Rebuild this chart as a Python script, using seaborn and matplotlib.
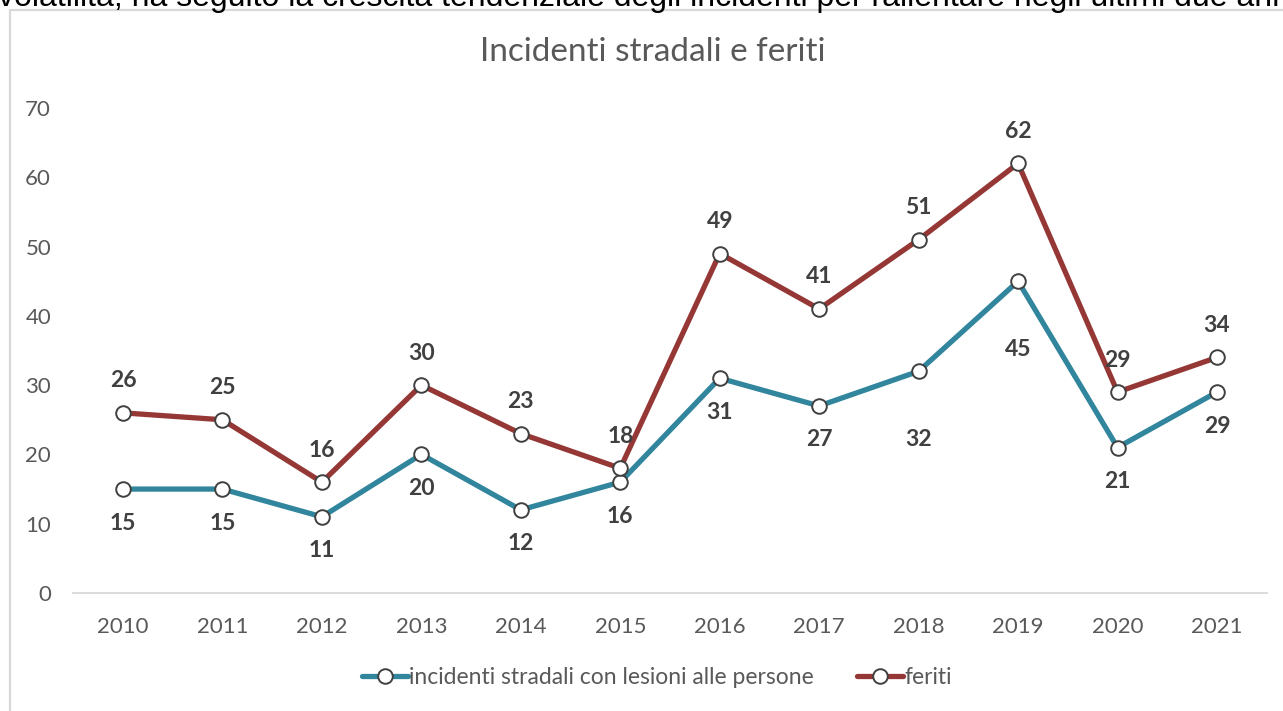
import matplotlib
matplotlib.use("Agg")
import matplotlib.pyplot as plt
from matplotlib.lines import Line2D
from matplotlib.patches import Rectangle
import pandas as pd
import seaborn as sns

# Data
anni = [2010, 2011, 2012, 2013, 2014, 2015, 2016, 2017, 2018, 2019, 2020, 2021]
incidenti = [15, 15, 11, 20, 12, 16, 31, 27, 32, 45, 21, 29]
feriti = [26, 25, 16, 30, 23, 18, 49, 41, 51, 62, 29, 34]
serie_incidenti = "incidenti stradali con lesioni alle persone"
serie_feriti = "feriti"
titolo = "Incidenti stradali e feriti"
testo_sopra = ("volatilità, ha seguito la crescita tendenziale degli incidenti "
               "per rallentare negli ultimi due anni")

# Vertical label offsets (pixels) for the data labels
off_incidenti = [34, 34, 34, 34, 34, 34, 34, 34, 68, 68, 34, 34]
off_feriti = [-32] * 12

col_inc = "#31859C"
col_fer = "#953735"
grey_txt = "#595959"
label_col = "#404040"

df = pd.DataFrame({
    "anno": anni * 2,
    "valore": incidenti + feriti,
    "serie": [serie_incidenti] * len(anni) + [serie_feriti] * len(anni),
})

sns.set_theme(style="white")
plt.rcParams["font.family"] = ["Lato", "DejaVu Sans"]

W, H = 1283, 711
fig = plt.figure(figsize=(W / 100, H / 100), dpi=100)
fig.patch.set_facecolor("white")

# light frame around the chart area
fig.patches.append(Rectangle((9.5 / W, -0.05), 1.1, 1.05 - 9.5 / H,
                             transform=fig.transFigure, fill=False,
                             edgecolor="#d9d9d9", linewidth=1.6))

# line of body text running above the chart
fig.text(-2 / W, 1 - 6 / H, testo_sopra, ha="left", va="baseline",
         fontsize=23, color="black", family=["Liberation Sans", "DejaVu Sans"])

left, right = 73.3 / W, 1266.7 / W
bottom, top = (H - 593) / H, (H - 108) / H
ax = fig.add_axes([left, bottom, right - left, top - bottom])

sns.lineplot(data=df, x="anno", y="valore", hue="serie",
             hue_order=[serie_incidenti, serie_feriti],
             palette=[col_inc, col_fer], linewidth=3.8,
             marker="o", markersize=10.5, markerfacecolor="white",
             markeredgecolor="#404040", markeredgewidth=1.4,
             legend=False, ax=ax)

ax.set_xlim(anni[0] - 0.5, anni[-1] + 0.5)
ax.set_ylim(0, 70)
ax.set_xticks(anni)
ax.set_xticklabels([str(a) for a in anni])
ax.set_yticks(range(0, 71, 10))
ax.tick_params(axis="both", length=0, labelsize=16, labelcolor=grey_txt)
ax.tick_params(axis="y", pad=16)
ax.tick_params(axis="x", pad=17)
ax.set_xlabel("")
ax.set_ylabel("")
for s in ["left", "right", "top"]:
    ax.spines[s].set_visible(False)
ax.spines["bottom"].set_color("#d9d9d9")
ax.spines["bottom"].set_linewidth(1.3)
ax.grid(False)

for x, v, o in zip(anni, feriti, off_feriti):
    ax.annotate(str(v), (x, v), xytext=(0, -o), textcoords="offset pixels",
                ha="center", va="center", fontsize=16.5, fontweight="bold",
                color=label_col)
for x, v, o in zip(anni, incidenti, off_incidenti):
    ax.annotate(str(v), (x, v), xytext=(0, -o), textcoords="offset pixels",
                ha="center", va="center", fontsize=16.5, fontweight="bold",
                color=label_col)

fig.text(653 / W, 1 - 52 / H, titolo, ha="center", va="center",
         fontsize=24, color=grey_txt)

handles = [
    Line2D([], [], color=c, linewidth=3.8, marker="o", markersize=10.5,
           markerfacecolor="white", markeredgecolor="#404040",
           markeredgewidth=1.4)
    for c in (col_inc, col_fer)
]
fig.legend(handles, [serie_incidenti, serie_feriti], loc="center",
           bbox_to_anchor=(657 / W, 1 - 678 / H), ncol=2, frameon=False,
           fontsize=16.5, labelcolor=grey_txt, handlelength=2.0,
           handletextpad=0.05, columnspacing=1.9, markerscale=1.0)

fig.savefig("out.png", dpi=100, facecolor="white")
